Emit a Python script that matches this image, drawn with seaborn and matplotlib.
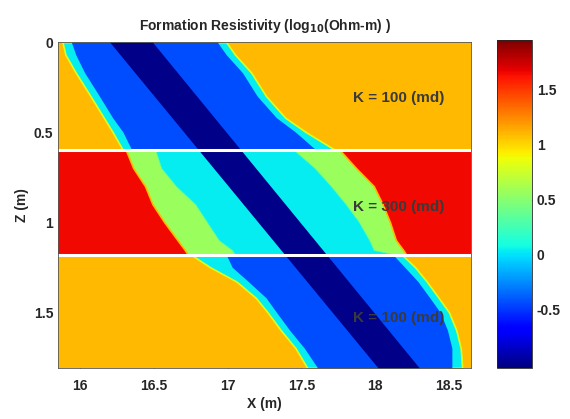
import numpy as np
import matplotlib
matplotlib.use("Agg")
import matplotlib.pyplot as plt
import seaborn as sns
from matplotlib.colors import Normalize
from matplotlib.cm import ScalarMappable

# layers (depth in m) and their background resistivity (log10 Ohm-m)
layer_top = [0.0, 0.6, 1.18]
layer_bottom = [0.6, 1.18, 1.81]
layer_value = [1.1, 1.65, 1.1]
layer_label = ["K = 100 (md)", "K = 300 (md)", "K = 100 (md)"]
label_z = [0.31, 0.915, 1.53]

# invaded zone, upper layer
z_up = [0.0, 0.07, 0.17, 0.3, 0.42, 0.5, 0.6]
up_outer_l = [15.88, 15.90, 15.97, 16.07, 16.16, 16.22, 16.29]
up_inner_l = [15.94, 15.97, 16.03, 16.13, 16.22, 16.29, 16.35]
up_inner_r = [16.93, 16.99, 17.10, 17.20, 17.33, 17.46, 17.60]
up_outer_r = [16.99, 17.05, 17.16, 17.26, 17.39, 17.53, 17.73]

# invaded zone, middle layer
z_mid = [0.6, 0.7, 0.8, 0.9, 1.0, 1.1, 1.155, 1.18]
mid_outer_l = [16.31, 16.36, 16.44, 16.49, 16.57, 16.66, 16.71, 16.73]
mid_inner_l = [16.51, 16.55, 16.65, 16.78, 16.86, 16.94, 17.03, 17.05]
mid_inner_r = [17.45, 17.59, 17.70, 17.80, 17.89, 17.96, 17.99, 18.14]
mid_outer_r = [17.76, 17.87, 17.99, 18.05, 18.10, 18.14, 18.19, 18.21]

# invaded zone, lower layer
z_low = [1.18, 1.25, 1.33, 1.42, 1.5, 1.6, 1.7, 1.81]
low_outer_l = [16.75, 16.88, 17.06, 17.19, 17.27, 17.36, 17.46, 17.54]
low_inner_l = [16.99, 17.03, 17.14, 17.26, 17.33, 17.42, 17.52, 17.61]
low_inner_r = [18.12, 18.20, 18.29, 18.37, 18.44, 18.49, 18.52, 18.52]
low_outer_r = [18.18, 18.27, 18.35, 18.43, 18.50, 18.55, 18.58, 18.59]

# borehole-parallel low resistivity band
z_core = [0.0, 1.81]
core_l = [16.20, 18.02]
core_r = [16.49, 18.30]

# resistivity of each zone
val_flushed = -0.43
val_core = -1.0
val_transition = 0.04
val_rim = 0.8
val_annulus = 0.57

vmin, vmax = -1.03, 1.95

sns.set_style("ticks")
plt.rcParams["font.family"] = ["Liberation Sans", "DejaVu Sans"]
plt.rcParams["font.weight"] = "bold"

cmap = matplotlib.colormaps["jet"]
norm = Normalize(vmin=vmin, vmax=vmax)
col = lambda v: cmap(norm(v))

fig = plt.figure(figsize=(5.7, 4.19), dpi=100)
ax = fig.add_axes([0.1018, 0.1217, 0.7246, 0.778])
cax = fig.add_axes([0.872, 0.121, 0.0614, 0.783])

xmin, xmax = 15.85, 18.65

for top, bot, v in zip(layer_top, layer_bottom, layer_value):
    ax.axhspan(top, bot, color=col(v), lw=0)

# upper and lower layers: transition ring + flushed zone
for z, ol, il, ir, orr in [(z_up, up_outer_l, up_inner_l, up_inner_r, up_outer_r),
                           (z_low, low_outer_l, low_inner_l, low_inner_r, low_outer_r)]:
    ax.fill_betweenx(z, ol, orr, facecolor=col(val_transition),
                     edgecolor=col(val_rim), lw=1.2)
    ax.fill_betweenx(z, il, ir, facecolor=col(val_flushed), lw=0)

# middle layer: annulus + transition
ax.fill_betweenx(z_mid, mid_outer_l, mid_outer_r, facecolor=col(val_annulus),
                 edgecolor=col(1.1), lw=1.2)
ax.fill_betweenx(z_mid, mid_inner_l, mid_inner_r, facecolor=col(val_transition),
                 edgecolor=col(0.3), lw=0.5)

ax.fill_betweenx(z_core, core_l, core_r, facecolor=col(val_core), lw=0)

for b in layer_bottom[:-1]:
    ax.axhline(b, color="white", lw=2.2)

for txt, zt in zip(layer_label, label_z):
    ax.text(18.16, zt, txt, ha="center", va="center", fontsize=11,
            fontweight="bold", color="#3a3a3a")

ax.set_xlim(xmin, xmax)
ax.set_ylim(1.81, 0)
ax.set_xticks([16, 16.5, 17, 17.5, 18, 18.5])
ax.set_xticklabels(["16", "16.5", "17", "17.5", "18", "18.5"])
ax.set_yticks([0, 0.5, 1, 1.5])
ax.set_yticklabels(["0", "0.5", "1", "1.5"])
ax.tick_params(direction="in", length=3, labelsize=10, width=0.6)
ax.tick_params(axis="x", pad=8)
ax.set_xlabel("X (m)", fontsize=10, fontweight="bold", labelpad=3)
ax.set_ylabel("Z (m)", fontsize=10, fontweight="bold", labelpad=3)
ax.set_title(r"Formation Resistivity (log$_{\mathbf{10}}$(Ohm-m) )",
             fontsize=10, fontweight="bold", pad=9)
for s in ax.spines.values():
    s.set_linewidth(0.6)
    s.set_color("#555555")

cb = fig.colorbar(ScalarMappable(norm=norm, cmap=cmap), cax=cax)
cb.set_ticks([-0.5, 0, 0.5, 1, 1.5])
cb.set_ticklabels(["-0.5", "0", "0.5", "1", "1.5"])
cb.ax.tick_params(direction="in", length=3, labelsize=10, width=0.6)
cb.outline.set_linewidth(0.6)

fig.savefig("out.png", dpi=100)
